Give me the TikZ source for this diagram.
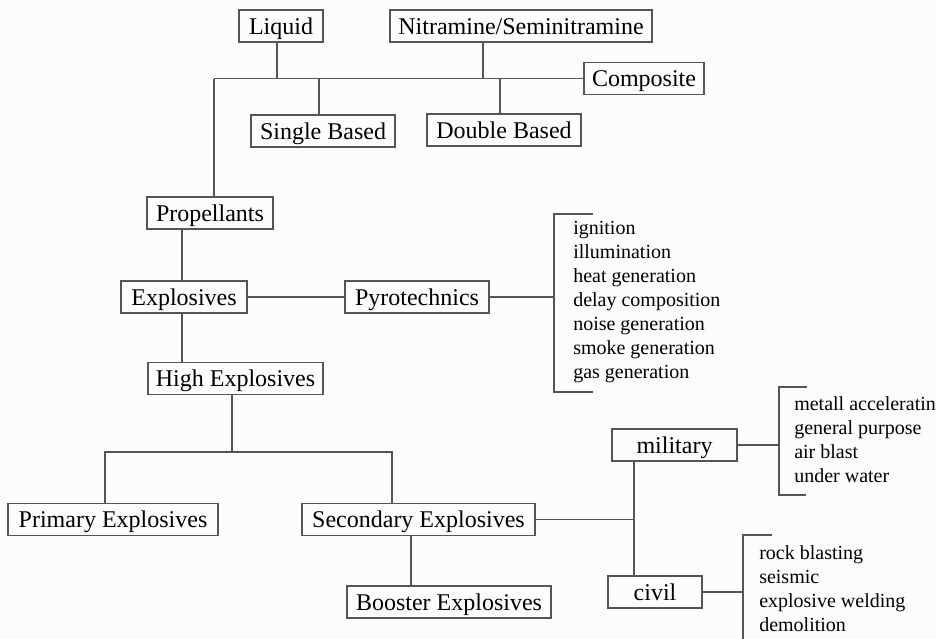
\documentclass[tikz,border=0pt]{standalone}
\usepackage{fontspec}
\setmainfont{Liberation Serif}
\definecolor{linegray}{RGB}{85,85,85}
\definecolor{paper}{RGB}{252,252,252}
\tikzset{
	box/.style={draw=linegray, rectangle, line width=1pt, inner sep=0pt, minimum height=24pt, text height=12pt, text depth=0pt, font=\fontsize{18}{21.6}\selectfont},
	% lists of uses, right of a bracket
	uses/.style={anchor=west, align=left, inner sep=0pt, font=\fontsize{15}{18}\selectfont},
}

\begin{document}
\begin{tikzpicture}[x=0.75pt, y=-0.75pt]
		\fill[paper] (0,0) rectangle (936,639);
		\useasboundingbox (0,0) rectangle (936,639);
		
		\node (liquid) [box, minimum width=63pt] at (281,26) {Liquid};
		\node (nitra) [box, minimum width=196.5pt] at (521,26) {Nitramine/Seminitramine};
		\node (composite) [box, minimum width=90pt] at (644,78.5) {Composite};
		\node (single) [box, minimum width=108pt] at (323,131) {Single Based};
		\node (double) [box, minimum width=115.5pt] at (504,130) {Double Based};
		
		\node (propellants) [box, minimum width=94.5pt] at (210,213) {Propellants};
		\node (explosives) [box, minimum width=94.5pt] at (184,297) {Explosives};
		\node (pyro) [box, minimum width=108pt] at (417,297) {Pyrotechnics};
		\node (high) [box, minimum width=131.25pt] at (235.5,378.5) {High Explosives};
		
		\node (primary) [box, minimum width=157.5pt] at (113,519.5) {Primary Explosives};
		\node (secondary) [box, minimum width=174.75pt] at (418.5,519.5) {Secondary Explosives};
		\node (booster) [box, minimum width=153pt] at (449,602) {Booster Explosives};
		\node (military) [box, minimum width=93.75pt] at (674.5,445) {military};
		\node (civil) [box, minimum width=70.5pt] at (655,592) {civil};
		
		\node (pyrouses) [uses] at (573,302) {ignition\\illumination\\heat generation\\delay composition\\noise generation\\smoke generation\\gas generation};
		\node (miluses) [uses] at (794,440) {metall acceleratin\\general purpose\\air blast\\under water};
		\node (civuses) [uses] at (759,589) {rock blasting\\seismic\\explosive welding\\demolition};
		
		\coordinate (trunk) at (214,78.5);
		\coordinate (split) at (232,452);
		\coordinate (fork) at (634,519.5);
		\coordinate (pyrobrk) at (554,297);
		\coordinate (milbrk) at (779,445);
		\coordinate (civbrk) at (743,592);
		
		\begin{scope}[draw=linegray, line width=1pt]
			\draw (trunk) -- (composite.west);
			\draw (trunk) -- (trunk |- propellants.north);
			\draw (277,0 |- liquid.south) -- (277,0 |- trunk);
			\draw (483,0 |- nitra.south) -- (483,0 |- trunk);
			\draw (319,0 |- trunk) -- (319,0 |- single.north);
			\draw (500,0 |- trunk) -- (500,0 |- double.north);
			
			\draw (182,0 |- propellants.south) -- (182,0 |- explosives.north);
			\draw (182,0 |- explosives.south) -- (182,0 |- high.north);
			\draw (explosives.east) -- (pyro.west);
			\draw (pyro.east) -- (pyro.east -| pyrobrk);
			
			\draw (split |- high.south) -- (split);
			\draw (105,0 |- primary.north) |- (split) -| (392,0 |- secondary.north);
			\draw (411,0 |- secondary.south) -- (411,0 |- booster.north);
			\draw (secondary.east) -- (fork);
			\draw (fork |- military.south) -- (fork |- civil.north);
			\draw (military.east) -- (military.east -| milbrk);
			\draw (civil.east) -- (civil.east -| civbrk);
			
			% brackets round the lists
			\draw (593,214) -| (554,392) -- (593,392);
			\draw (807,387) -| (779,495) -- (806,495);
			\draw (772,535) -| (743,645);
		\end{scope}
	\end{tikzpicture}
\end{document}
